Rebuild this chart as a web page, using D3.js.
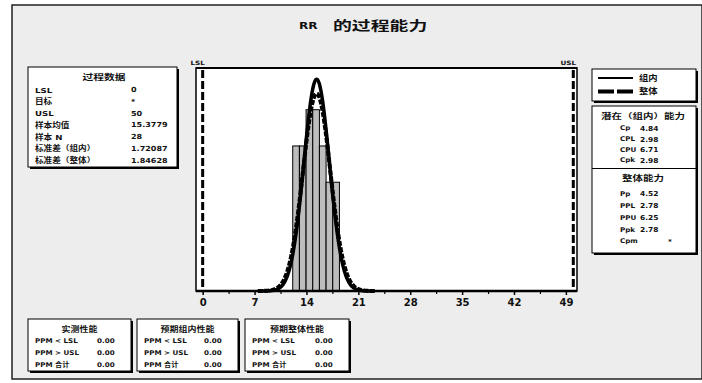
<!DOCTYPE html>
<html><head><meta charset="utf-8">
<script src="https://cdn.jsdelivr.net/npm/d3@7"></script>
<style>
body{margin:0;background:#fff}
svg{display:block}
text{font-family:"DejaVu Sans","Noto Sans CJK SC",sans-serif;font-weight:bold;fill:#111}
</style>
</head><body>
<svg id="c" width="702" height="383"></svg>
<script>
// ---------- data ----------
const binMids   = [12.6, 13.5, 14.4, 15.3, 16.2, 17.1, 18.0];
const binCounts = [4, 4, 5, 5, 4, 3, 3];
const binWidth  = 0.9;
const specNames  = ["LSL", "USL"];
const specValues = [0, 50];
const fitParams  = {mean: 15.3779, within: 1.72087, overall: 1.84628, n: 28};
const xTicks     = [0, 7, 14, 21, 28, 35, 42, 49];
const xMinor     = [3.5, 10.5, 17.5, 24.5, 31.5, 38.5, 45.5];

const titleVar   = "RR";
const titleText  = "的过程能力";
const procTitle  = "过程数据";
const procLabels = ["LSL", "目标", "USL", "样本均值", "样本 N", "标准差（组内）", "标准差（整体）"];
const procValues = ["0", "*", "50", "15.3779", "28", "1.72087", "1.84628"];

const legendNames = ["组内", "整体"];
const potTitle  = "潜在（组内）能力";
const potLabels = ["Cp", "CPL", "CPU", "Cpk"];
const potValues = ["4.84", "2.98", "6.71", "2.98"];
const ovTitle  = "整体能力";
const ovLabels = ["Pp", "PPL", "PPU", "Ppk", "Cpm"];
const ovValues = ["4.52", "2.78", "6.25", "2.78", "*"];

const perfTitles = ["实测性能", "预期组内性能", "预期整体性能"];
const perfLabels = ["PPM < LSL", "PPM > USL", "PPM 合计"];
const perfValues = [["0.00","0.00","0.00"], ["0.00","0.00","0.00"], ["0.00","0.00","0.00"]];

// ---------- drawing ----------
const svg = d3.select("#c");
svg.append("rect").attr("x",12).attr("y",5).attr("width",690).attr("height",374)
  .attr("fill","#ededed").attr("stroke","#222").attr("stroke-width",1.5);

function txt(xp,yp,s,size,anchor,sx,fam){
  const e = svg.append("text").attr("transform",`translate(${xp},${yp}) scale(${sx||1},1)`)
    .attr("dominant-baseline","central").attr("text-anchor",anchor||"start")
    .attr("font-size",size).text(s);
  if(fam) e.attr("font-family",fam);
  return e;
}

// title
txt(299,26,titleVar,9,"start",1.35,"Liberation Serif");
txt(333,26,titleText,13,"start",1.45);

// plot
const pL=196, pR=577, pT=68, pB=291;
const x = d3.scaleLinear().domain([-0.9, 50.5]).range([pL, pR]);
const y = d3.scaleLinear().domain([0, 6.15]).range([pB, pT]);

svg.append("rect").attr("x",pL).attr("y",pT).attr("width",pR-pL).attr("height",pB-pT)
  .attr("fill","#fff").attr("stroke","#000").attr("stroke-width",1.5);

// bars
svg.append("g").selectAll("rect").data(binMids).join("rect")
  .attr("x", d => x(d - binWidth/2))
  .attr("width", d => x(d + binWidth/2) - x(d - binWidth/2))
  .attr("y", (d,i) => y(binCounts[i]))
  .attr("height", (d,i) => y(0) - y(binCounts[i]))
  .attr("fill","#bdbdbd").attr("stroke","#000").attr("stroke-width",1);

// fitted normal curves
function curvePts(sigma){
  const pts=[];
  const lo = fitParams.mean - 4.3*sigma, hi = fitParams.mean + 4.3*sigma;
  for(let i=0;i<=160;i++){
    const v = lo + (hi-lo)*i/160;
    const z = (v - fitParams.mean)/sigma;
    pts.push([v, fitParams.n*binWidth*Math.exp(-0.5*z*z)/(sigma*Math.sqrt(2*Math.PI))]);
  }
  return pts;
}
const line = d3.line().x(d=>x(d[0])).y(d=>y(d[1])).curve(d3.curveBasis);
svg.append("path").attr("d", line(curvePts(fitParams.within)))
  .attr("fill","none").attr("stroke","#000").attr("stroke-width",3.5);
svg.append("path").attr("d", line(curvePts(fitParams.overall)))
  .attr("fill","none").attr("stroke","#000").attr("stroke-width",4).attr("stroke-dasharray","5,1.5");

// spec limits
specValues.forEach((v,i)=>{
  svg.append("line").attr("x1",x(v)).attr("x2",x(v)).attr("y1",pT+2).attr("y2",pB-1)
    .attr("stroke","#000").attr("stroke-width",3).attr("stroke-dasharray","8,3");
  txt(x(v)-5,63,specNames[i],6,"middle",1.2,"Liberation Serif");
});

// top border thicker
svg.append("line").attr("x1",pL).attr("x2",pR).attr("y1",pT).attr("y2",pT).attr("stroke","#000").attr("stroke-width",2);

// axis
const ax = svg.append("g").attr("transform",`translate(0,${pB})`)
  .call(d3.axisBottom(x).tickValues(xTicks).tickSize(4).tickPadding(4));
ax.select(".domain").remove();
ax.selectAll("line").attr("stroke","#000").attr("stroke-width",1.5);
ax.selectAll("text").attr("font-size",10).attr("font-family","Liberation Mono").attr("font-weight","bold").attr("fill","#222");
const axm = svg.append("g").attr("transform",`translate(0,${pB})`)
  .call(d3.axisBottom(x).tickValues(xMinor).tickSize(3).tickFormat(""));
axm.select(".domain").remove();
axm.selectAll("line").attr("stroke","#000").attr("stroke-width",1.2);
svg.append("line").attr("x1",pL).attr("x2",pR).attr("y1",pB).attr("y2",pB).attr("stroke","#000").attr("stroke-width",2.5);

// box helper
function box(x0,y0,x1,y1){
  svg.append("rect").attr("x",x0+2).attr("y",y0+2).attr("width",x1-x0).attr("height",y1-y0).attr("fill","#000");
  svg.append("rect").attr("x",x0).attr("y",y0).attr("width",x1-x0).attr("height",y1-y0)
    .attr("fill","#fff").attr("stroke","#000").attr("stroke-width",1);
}

// process data
box(28,67,177,167);
txt(104,77,procTitle,8,"middle",1.35);
const procY=[90,101.7,113.4,125.1,136.8,148.5,160.2];
procLabels.forEach((l,i)=>{ txt(35,procY[i],l,7.5,"start",1.15); txt(131,procY[i],procValues[i],7,"start",1.15); });

// legend
box(592,69,696,101);
svg.append("line").attr("x1",598).attr("x2",633).attr("y1",78).attr("y2",78).attr("stroke","#000").attr("stroke-width",2);
svg.append("line").attr("x1",598).attr("x2",633).attr("y1",91.5).attr("y2",91.5).attr("stroke","#000").attr("stroke-width",4).attr("stroke-dasharray","16,3");
txt(639,78,legendNames[0],8.5,"start",1.1); txt(639,91.5,legendNames[1],8.5,"start",1.1);

// capability boxes
box(592,106,696,253);
svg.append("line").attr("x1",592).attr("x2",696).attr("y1",168.5).attr("y2",168.5).attr("stroke","#000").attr("stroke-width",1.2);
txt(643,117,potTitle,7.5,"middle",1.4);
const potY=[128.5,139.5,150,160.5];
potLabels.forEach((l,i)=>{ txt(620,potY[i],l,6.5,"start",1.1); txt(640,potY[i],potValues[i],6.8,"start",1.1); });
txt(643,179,ovTitle,7.5,"middle",1.4);
const ovY=[194,206,218,230,241.5];
ovLabels.forEach((l,i)=>{ txt(620,ovY[i],l,6.5,"start",1.1); txt(ovValues[i]==="*"?668:640,ovY[i],ovValues[i],6.8,"start",1.1); });

// performance boxes
const perfX=[[28,131],[137,238],[245,349]];
perfTitles.forEach((tt,k)=>{
  const [a,b]=perfX[k];
  box(a,319,b,371);
  txt((a+b)/2,329.5,tt,7.5,"middle",1.2);
  const rowY=[341,353,365];
  perfLabels.forEach((l,i)=>{ txt(a+7,rowY[i],l,6.5,"start",1.1); txt(b-34,rowY[i],perfValues[k][i],6.5,"start",1.1); });
});
</script>
</body></html>
